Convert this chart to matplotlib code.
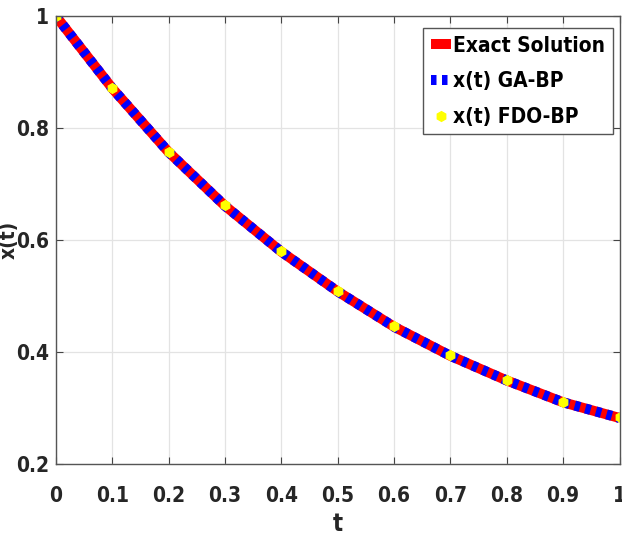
import numpy as np
import matplotlib
matplotlib.use("Agg")
import matplotlib.pyplot as plt
from matplotlib import font_manager
from matplotlib.font_manager import FontProperties

# values
t = [0.0, 0.1, 0.2, 0.3, 0.4, 0.5, 0.6, 0.7, 0.8, 0.9, 1.0]
x_exact = [1.0, 0.871, 0.757, 0.661, 0.579, 0.508, 0.445, 0.393, 0.349, 0.310, 0.282]
x_ga = [1.0, 0.871, 0.757, 0.661, 0.579, 0.508, 0.445, 0.393, 0.349, 0.310, 0.282]
x_fdo = [1.0, 0.872, 0.758, 0.662, 0.580, 0.509, 0.446, 0.394, 0.350, 0.311, 0.283]

# look for a narrow bold face (the reference text is condensed)
narrow = None
for key in ["LiberationSansNarrow-Bold", "DejaVuSansCondensed-Bold", "RobotoCondensed-Bold",
            "NotoSans-CondensedBold", "OpenSans_Condensed-Bold", "OpenSansCondensed-Bold"]:
    for f in font_manager.fontManager.ttflist:
        if key.lower() in f.fname.lower().replace(" ", ""):
            narrow = f.fname
            break
    if narrow:
        break


def fp(size):
    if narrow:
        return FontProperties(fname=narrow, size=size)
    return FontProperties(family=["Liberation Sans", "DejaVu Sans"], weight="bold",
                          size=size * 0.85)


fig = plt.figure(figsize=(6.22, 5.40), dpi=100)
ax = fig.add_axes([0.090, 0.141, 0.906, 0.829])

ax.plot(t, x_exact, color="red", lw=7.2, solid_capstyle="butt", label="Exact Solution")
ax.plot(t, x_ga, color="blue", lw=7.2, dashes=(0.55, 0.55), dash_capstyle="butt",
        label="x(t) GA-BP")
ax.plot(t, x_fdo, ls="none", marker="h", ms=7, color="yellow", mec="yellow",
        label="x(t) FDO-BP")

ax.set_xlim(0, 1)
ax.set_ylim(0.2, 1.0)
ax.set_xticks(np.arange(0, 1.01, 0.1))
ax.set_xticklabels(["0", "0.1", "0.2", "0.3", "0.4", "0.5", "0.6", "0.7", "0.8", "0.9", "1"])
ax.set_yticks([0.2, 0.4, 0.6, 0.8, 1.0])
ax.set_yticklabels(["0.2", "0.4", "0.6", "0.8", "1"])
ax.tick_params(direction="in", top=True, right=True, length=5, color="#444444")
ax.tick_params(axis="x", pad=16)
ax.tick_params(axis="y", pad=5)
for lab in ax.get_xticklabels() + ax.get_yticklabels():
    lab.set_fontproperties(fp(15))
    lab.set_color("#262626")
ax.grid(True, color="#e3e3e3", lw=0.9)
for s in ax.spines.values():
    s.set_color("#555555")
    s.set_linewidth(1.0)

ax.set_xlabel("t", fontproperties=fp(17), color="#262626")
ax.xaxis.set_label_coords(0.5, -0.108)
ax.set_ylabel("x(t)", fontproperties=fp(15), color="#262626")
ax.yaxis.set_label_coords(-0.066, 0.5)

leg = ax.legend(loc="upper right", prop=fp(15), handlelength=1.0, handletextpad=0.1,
                borderpad=0.35, labelspacing=0.75, fancybox=False, framealpha=1,
                edgecolor="#555555", borderaxespad=0, bbox_to_anchor=(0.988, 0.973))

fig.savefig("out.png", dpi=100)
